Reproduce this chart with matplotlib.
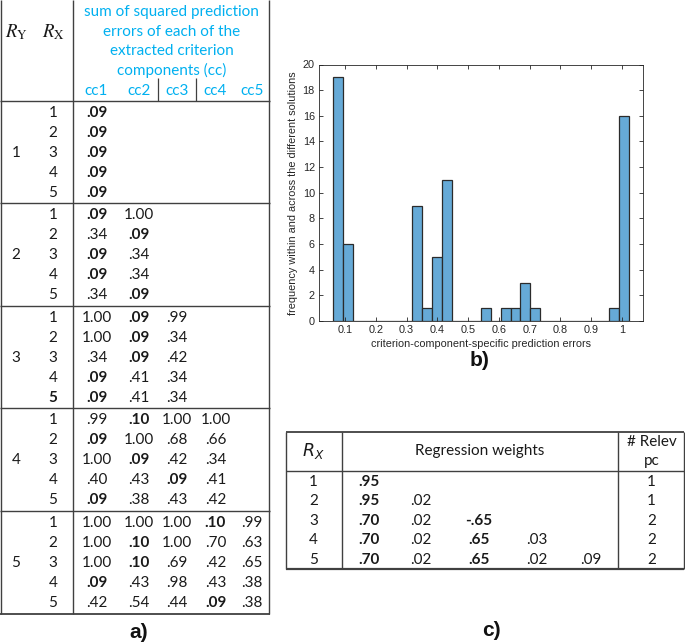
import matplotlib

matplotlib.use("Agg")

import matplotlib.pyplot as plt  # noqa: E402
import numpy as np  # noqa: E402

# ---- data -----------------------------------------------------------------
# panel a) sum of squared prediction errors per extracted criterion component,
# one list of rows (R_X = 1..5) per R_Y solution
ERRORS_RY1 = [[0.09], [0.09], [0.09], [0.09], [0.09]]
ERRORS_RY2 = [[0.09, 1.00], [0.34, 0.09], [0.09, 0.34], [0.09, 0.34], [0.34, 0.09]]
ERRORS_RY3 = [
    [1.00, 0.09, 0.99],
    [1.00, 0.09, 0.34],
    [0.34, 0.09, 0.42],
    [0.09, 0.41, 0.34],
    [0.09, 0.41, 0.34],
]
ERRORS_RY4 = [
    [0.99, 0.10, 1.00, 1.00],
    [0.09, 1.00, 0.68, 0.66],
    [1.00, 0.09, 0.42, 0.34],
    [0.40, 0.43, 0.09, 0.41],
    [0.09, 0.38, 0.43, 0.42],
]
ERRORS_RY5 = [
    [1.00, 1.00, 1.00, 0.10, 0.99],
    [1.00, 0.10, 1.00, 0.70, 0.63],
    [1.00, 0.10, 0.69, 0.42, 0.65],
    [0.09, 0.43, 0.98, 0.43, 0.38],
    [0.42, 0.54, 0.44, 0.09, 0.38],
]
ERRORS = [ERRORS_RY1, ERRORS_RY2, ERRORS_RY3, ERRORS_RY4, ERRORS_RY5]
CC_LABELS = ["cc1", "cc2", "cc3", "cc4", "cc5"]
HEADER_LINES = ["sum of squared prediction", "errors of each of the", "extracted criterion", "components (cc)"]
BOLD_RX_LABELS = [(3, 5)]  # (R_Y, R_X) row label printed bold in the source

# panel b) histogram of all criterion-component-specific errors
HIST_START = 0.062
HIST_WIDTH = 0.032
HIST_COUNTS = [19, 6, 0, 0, 0, 0, 0, 0, 9, 1, 5, 11, 0, 0, 0, 1, 0, 1, 1, 3, 1, 0, 0, 0, 0, 0, 0, 0, 1, 16]
HIST_XTICKS = [0.1, 0.2, 0.3, 0.4, 0.5, 0.6, 0.7, 0.8, 0.9, 1.0]
HIST_XTICKLABELS = ["0.1", "0.2", "0.3", "0.4", "0.5", "0.6", "0.7", "0.8", "0.9", "1"]
HIST_YTICKS = [0, 2, 4, 6, 8, 10, 12, 14, 16, 18, 20]

# panel c) regression weights per R_X solution
WEIGHTS_RX1 = [0.95]
WEIGHTS_RX2 = [0.95, 0.02]
WEIGHTS_RX3 = [0.70, 0.02, -0.65]
WEIGHTS_RX4 = [0.70, 0.02, 0.65, 0.03]
WEIGHTS_RX5 = [0.70, 0.02, 0.65, 0.02, 0.09]
WEIGHTS = [WEIGHTS_RX1, WEIGHTS_RX2, WEIGHTS_RX3, WEIGHTS_RX4, WEIGHTS_RX5]
RELEVANT_PC = [1, 1, 2, 2, 2]

# ---- style / layout (pixel coordinates, y downwards) -----------------------
W, H = 685, 644
TABLE_FONT = "Lato"
PLOT_FONT = "Liberation Sans"
HEADER_BLUE = "#00b0f0"
INK = "#1a1a1a"
RULE = "#404040"
FS = 11

A_LEFT, A_SEP, A_RIGHT = 0.8, 73.5, 269.5
A_HEAD_BOTTOM, A_GROUP_H = 100.5, 102.6
A_ROW_OFF, A_ROW_STEP = 12.2, 20.0
A_RY_X, A_RX_X = 16, 53
A_COL_X = [96.5, 139, 177, 215.5, 252]

C_LEFT, C_SEP1, C_SEP2, C_RIGHT = 286.5, 341.7, 617.7, 684
C_TOP, C_HEAD_BOTTOM, C_BOTTOM = 431.5, 470.5, 569
C_ROW_Y0, C_ROW_STEP = 481.7, 19.6
C_RX_X, C_PC_X = 313.5, 651.5
C_COL_X = [369, 421, 479, 537, 591]


def _fmt(v):
    s = f"{v:.2f}"
    return s.replace("0.", ".", 1) if abs(v) < 1 else s


def _hline(ax, x0, x1, y, lw=1.0):
    ax.plot([x0, x1], [y, y], color=RULE, lw=lw, solid_capstyle="butt")


def _vline(ax, x, y0, y1, lw=1.0):
    ax.plot([x, x], [y0, y1], color=RULE, lw=lw, solid_capstyle="butt")


def _cell(ax, x, y, s, bold=False, color=INK, **kw):
    ax.text(x, y, s, ha="center", va="center", fontsize=FS, family=TABLE_FONT,
            fontweight="bold" if bold else "normal", color=color, **kw)


def draw_table_a(ax):
    n_groups = len(ERRORS)
    bottom = A_HEAD_BOTTOM + n_groups * A_GROUP_H
    for x in (A_LEFT, A_SEP, A_RIGHT):
        _vline(ax, x, 0, bottom)
    for g in range(n_groups + 1):
        _hline(ax, A_LEFT - 0.5, A_RIGHT + 0.5, A_HEAD_BOTTOM + g * A_GROUP_H, lw=1.3 if g == n_groups else 1.0)
    for x in ((A_COL_X[1] + A_COL_X[2]) / 2, (A_COL_X[2] + A_COL_X[3]) / 2):
        _vline(ax, x, 78, A_HEAD_BOTTOM, lw=0.9)

    for k, line in enumerate(HEADER_LINES):
        _cell(ax, (A_SEP + A_RIGHT) / 2, 12 + 19.6 * k, line, color=HEADER_BLUE)
    for x, lab in zip(A_COL_X, CC_LABELS):
        _cell(ax, x, 91, lab, color=HEADER_BLUE)
    for x, lab in ((A_RY_X, r"$R_{\mathrm{Y}}$"), (A_RX_X, r"$R_{\mathrm{X}}$")):
        ax.text(x, 32, lab, ha="center", va="center", fontsize=13.5, math_fontfamily="stix", color=INK)

    for g, rows in enumerate(ERRORS):
        top = A_HEAD_BOTTOM + g * A_GROUP_H
        ry = g + 1
        _cell(ax, A_RY_X, top + A_ROW_OFF + 2 * A_ROW_STEP, str(ry))
        for i, row in enumerate(rows):
            y = top + A_ROW_OFF + i * A_ROW_STEP
            rx = i + 1
            _cell(ax, A_RX_X, y, str(rx), bold=(ry, rx) in BOLD_RX_LABELS)
            best = min(row)
            for x, v in zip(A_COL_X, row):
                _cell(ax, x, y, _fmt(v), bold=v == best)


def draw_table_c(ax):
    for x in (C_LEFT, C_SEP1, C_SEP2, C_RIGHT):
        _vline(ax, x, C_TOP, C_BOTTOM)
    _hline(ax, C_LEFT, C_RIGHT, C_TOP, lw=1.3)
    _hline(ax, C_LEFT, C_RIGHT, C_HEAD_BOTTOM)
    _hline(ax, C_LEFT, C_RIGHT, C_BOTTOM, lw=1.6)

    head_y = (C_TOP + C_HEAD_BOTTOM) / 2
    ax.text(C_RX_X, head_y, r"$R_X$", ha="center", va="center", fontsize=12.5,
            math_fontfamily="dejavusans", color=INK)
    _cell(ax, (C_SEP1 + C_SEP2) / 2, head_y, "Regression weights")
    _cell(ax, C_PC_X, head_y - 9, "# Relev")
    _cell(ax, C_PC_X, head_y + 10, "pc")

    for i, (row, npc) in enumerate(zip(WEIGHTS, RELEVANT_PC)):
        y = C_ROW_Y0 + i * C_ROW_STEP
        _cell(ax, C_RX_X, y, str(i + 1))
        for x, w in zip(C_COL_X, row):
            _cell(ax, x, y, _fmt(w), bold=abs(w) >= 0.5)
        _cell(ax, C_PC_X, y, str(npc))


def draw_histogram(fig):
    ax = fig.add_axes([319 / W, 1 - 321 / H, 324 / W, 256.5 / H])
    edges = HIST_START + HIST_WIDTH * np.arange(len(HIST_COUNTS) + 1)
    ax.bar(edges[:-1], HIST_COUNTS, width=HIST_WIDTH, align="edge",
           facecolor="#66aad7", edgecolor="#2b2b2b", linewidth=0.9)
    ax.set_xlim(0.0155, 1.068)
    ax.set_ylim(0, 20)
    ax.set_xticks(HIST_XTICKS)
    ax.set_xticklabels(HIST_XTICKLABELS)
    ax.set_yticks(HIST_YTICKS)
    ax.tick_params(direction="in", length=3, width=0.6, colors="#262626", labelsize=7.8,
                   top=True, right=True, pad=3)
    for lab in ax.get_xticklabels() + ax.get_yticklabels():
        lab.set_family(PLOT_FONT)
    for sp in ax.spines.values():
        sp.set_color("#262626")
        sp.set_linewidth(0.6)
    ax.set_xlabel("criterion-component-specific prediction errors", fontsize=7.8,
                  family=PLOT_FONT, color="#262626", labelpad=3)
    ax.set_ylabel("frequency within and across the different solutions", fontsize=7.8,
                  family=PLOT_FONT, color="#262626", labelpad=3)
    return ax


fig = plt.figure(figsize=(W / 100, H / 100), dpi=100)
bg = fig.add_axes([0, 0, 1, 1])
bg.set_xlim(0, W)
bg.set_ylim(H, 0)
bg.axis("off")

draw_table_a(bg)
draw_table_c(bg)
draw_histogram(fig)

for x, y, lab in ((138.5, 632, "a)"), (480, 360, "b)"), (491, 630, "c)")):
    bg.text(x, y, lab, ha="center", va="center", fontsize=15, fontweight="bold", family=PLOT_FONT, color="#111111")

fig.savefig("out.png", dpi=100)
plt.close(fig)
